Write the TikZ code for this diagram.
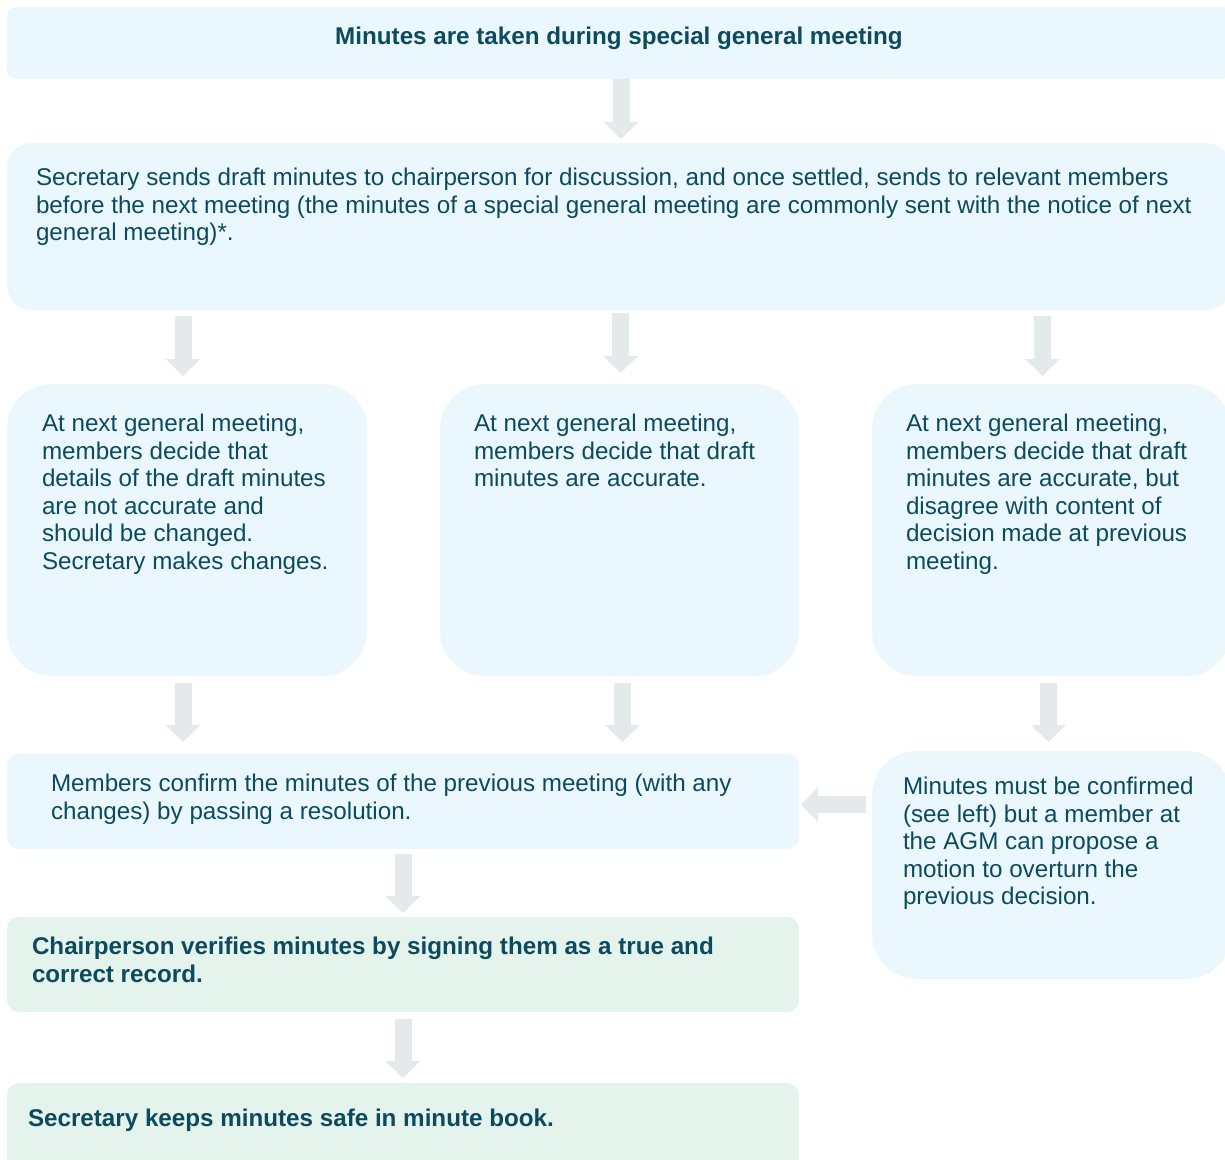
\documentclass[tikz,border=0pt]{standalone}
\usepackage{fontspec}
\setmainfont{Liberation Sans}
\usetikzlibrary{arrows.meta,calc}
\definecolor{boxblue}{RGB}{234,247,252}
\definecolor{boxgreen}{RGB}{228,243,236}
\definecolor{txtc}{RGB}{12,74,94}
\definecolor{arrc}{RGB}{228,233,236}
\begin{document}
\begin{tikzpicture}[x=1pt,y=-1pt,
  box/.style={rectangle, fill=boxblue, draw=none, inner sep=0pt, outer sep=0pt, anchor=north west},
  gbox/.style={box, fill=boxgreen},
  txt/.style={anchor=north west, inner sep=0pt, outer sep=0pt, align=left, text=txtc, font={\fontsize{24.2}{27.6}\selectfont}},
  btxt/.style={txt, font={\fontsize{24.2}{27.6}\selectfont\bfseries}},
  barrow/.style={draw=arrc, line width=17pt, line cap=butt, -{Triangle[width=34pt,length=17pt]}}
]
\useasboundingbox (0,0) rectangle (1225,1159);
\clip (0,0) rectangle (1225,1159);
% boxes
\node[box, rounded corners=9pt, minimum width=1224pt, minimum height=72pt] (b1) at (7,7) {};
\node[box, rounded corners=25pt, minimum width=1224pt, minimum height=167pt] (b2) at (7,143) {};
\node[box, rounded corners=45pt, minimum width=360pt, minimum height=292pt] (b3l) at (7,384) {};
\node[box, rounded corners=45pt, minimum width=359pt, minimum height=292pt] (b3m) at (440,384) {};
\node[box, rounded corners=45pt, minimum width=359pt, minimum height=292pt] (b3r) at (872,384) {};
\node[box, rounded corners=12pt, minimum width=792pt, minimum height=95pt] (b4) at (7,754) {};
\node[box, rounded corners=45pt, minimum width=359pt, minimum height=228pt] (b5) at (872,751) {};
\node[gbox, rounded corners=12pt, minimum width=792pt, minimum height=95pt] (g1) at (7,917) {};
\node[gbox, rounded corners=12pt, minimum width=792pt, minimum height=110pt] (g2) at (7,1083) {};
% texts
\node[btxt, anchor=base] (t1) at (619,44) {Minutes are taken during special general meeting};
\node[txt] (t2) at (36,168) {Secretary sends draft minutes to chairperson for discussion, and once settled, sends to relevant members\\before the next meeting (the minutes of a special general meeting are commonly sent with the notice of next\\general meeting)*.};
\node[txt] (t3l) at (42,414) {At next general meeting,\\members decide that\\details of the draft minutes\\are not accurate and\\should be changed.\\Secretary makes changes.};
\node[txt] (t3m) at (474,414) {At next general meeting,\\members decide that draft\\minutes are accurate.};
\node[txt] (t3r) at (906,414) {At next general meeting,\\members decide that draft\\minutes are accurate, but\\disagree with content of\\decision made at previous\\meeting.};
\node[txt] (t4) at (51,774) {Members confirm the minutes of the previous meeting (with any\\changes) by passing a resolution.};
\node[txt] (t5) at (903,777) {Minutes must be confirmed\\(see left) but a member at\\the AGM can propose a\\motion to overturn the\\previous decision.};
\node[btxt] (tg1) at (32,937) {Chairperson verifies minutes by signing them as a true and\\correct record.};
\node[btxt] (tg2) at (28,1109) {Secretary keeps minutes safe in minute book.};
% arrows
\draw[barrow] ($(b1.south)+(2,0)$) -- ($(b2.north)+(2,-4)$);
\draw[barrow] ($(b3l.north |- b2.south)+(-4,6)$) -- ($(b3l.north)+(-4,-8)$);
\draw[barrow] ($(b3m.north |- b2.south)+(1,3)$) -- ($(b3m.north)+(1,-11)$);
\draw[barrow] ($(b3r.north |- b2.south)+(-9,6)$) -- ($(b3r.north)+(-9,-8)$);
\draw[barrow] ($(b3l.south)+(-4,7)$) -- ($(b4.north -| b3l.south)+(-4,-12)$);
\draw[barrow] ($(b3m.south)+(3,7)$) -- ($(b4.north -| b3m.south)+(3,-12)$);
\draw[barrow] ($(b3r.south)+(-3,7)$) -- ($(b5.north)+(-3,-9)$);
\draw[barrow] ($(b5.west |- b4.east)+(-6,3)$) -- ($(b4.east)+(2,3)$);
\draw[barrow] ($(b4.south)+(0,5)$) -- ($(g1.north)+(0,-4)$);
\draw[barrow] ($(g1.south)+(0,7)$) -- ($(g2.north)+(0,-5)$);
\end{tikzpicture}
\end{document}
